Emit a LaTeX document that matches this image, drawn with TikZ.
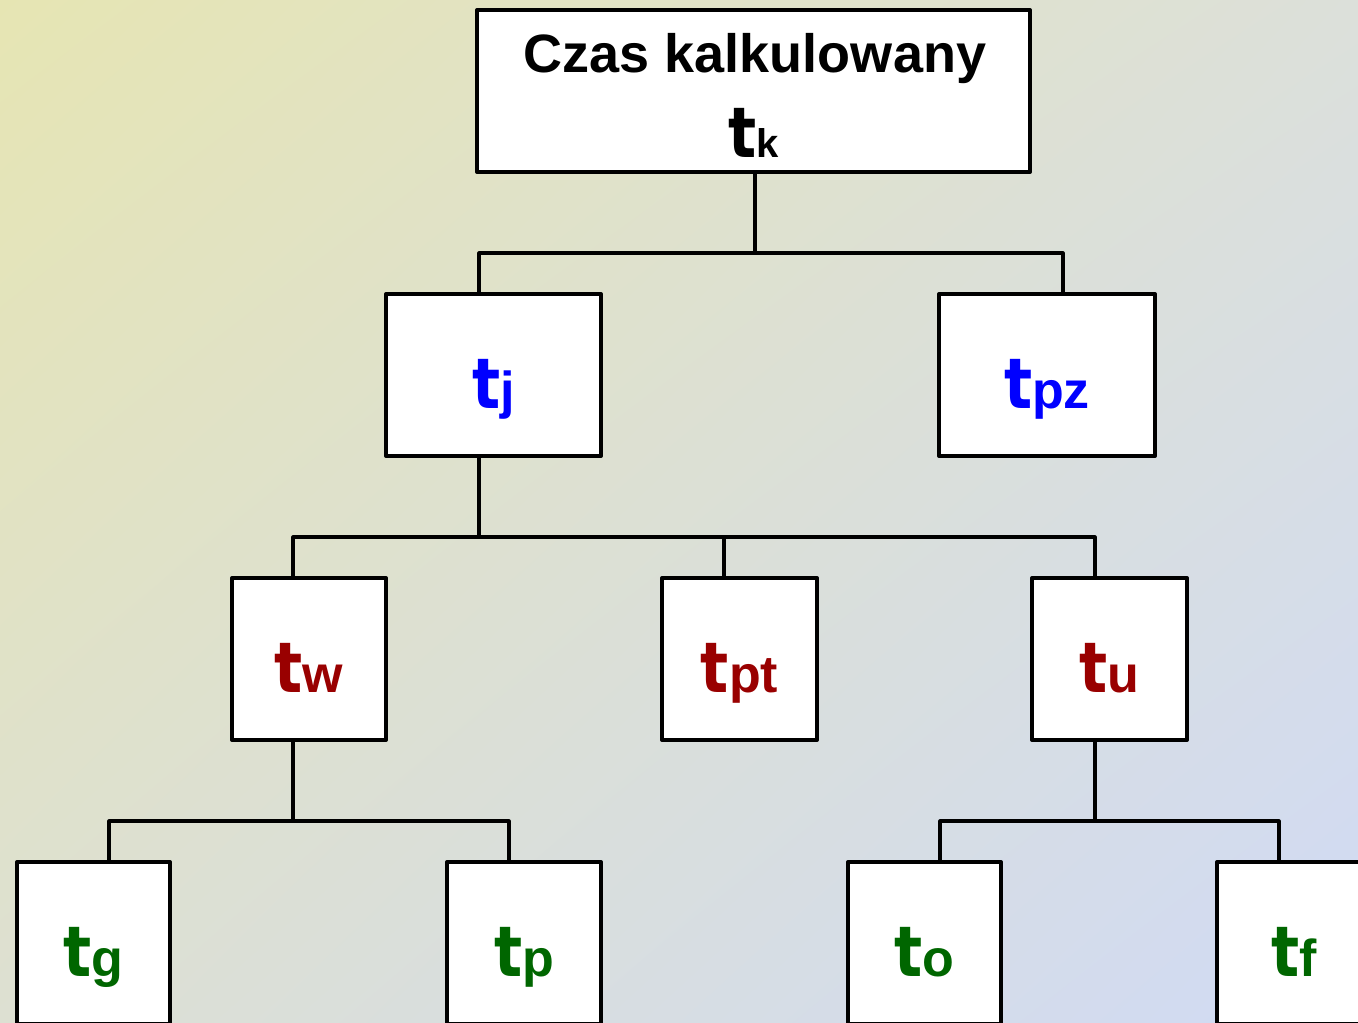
\documentclass[tikz,border=0pt]{standalone}
\usepackage{fontspec}
\usetikzlibrary{shadings}
\setmainfont{Liberation Sans}
\newfontfamily\tfont{DejaVu Sans}
\definecolor{bgUL}{HTML}{E6E5B3}
\definecolor{bgUR}{HTML}{DCE0DA}
\definecolor{bgLL}{HTML}{DDE0D2}
\definecolor{bgLR}{HTML}{D0DAF5}
\definecolor{cblue}{HTML}{0000FF}
\definecolor{cred}{HTML}{990000}
\definecolor{cgreen}{HTML}{006600}
\newcommand\bigt{\scalebox{0.84}[1]{\tfont\bfseries\fontsize{35}{40}\selectfont t}}
\newcommand\tlab[1]{\bigt{\bfseries\fontsize{26}{30}\selectfont #1}}
\begin{document}
\begin{tikzpicture}[x=0.5pt,y=-0.5pt,
  box/.style={draw=black,line width=2pt,fill=white,rectangle,anchor=north west,
              outer sep=0pt,inner sep=0pt,line join=round,minimum height=81pt},
  conn/.style={draw=black,line width=1.6pt,line join=round},
  lbl/.style={anchor=base,inner sep=0pt,outer sep=0pt}]
\useasboundingbox (0,0) rectangle (1358,1022);
\clip (0,0) rectangle (1358,1022);
\shade[upper left=bgUL,upper right=bgUR,lower left=bgLL,lower right=bgLR] (0,0) rectangle (1358,1022);

% connectors (drawn first, boxes cover their ends)
\coordinate (j1) at (755,253);
\coordinate (j1l) at (479,253);
\coordinate (j1r) at (1063,253);
\coordinate (j2) at (479,537);
\coordinate (j2l) at (293,537);
\coordinate (j2m) at (724,537);
\coordinate (j2r) at (1095,537);
\coordinate (j3) at (293,821);
\coordinate (j3l) at (109,821);
\coordinate (j3r) at (509,821);
\coordinate (j4) at (1095,821);
\coordinate (j4l) at (940,821);
\coordinate (j4r) at (1279,821);

% boxes
\node[box,minimum width=276.5pt] (root) at (477,10) {};
\node[box,minimum width=107.5pt] (tj) at (386,294) {};
\node[box,minimum width=108pt] (tpz) at (939,294) {};
\node[box,minimum width=77pt] (tw) at (232,578) {};
\node[box,minimum width=77.5pt] (tpt) at (662,578) {};
\node[box,minimum width=77.5pt] (tu) at (1032,578) {};
\node[box,minimum width=76.5pt] (tg) at (17,862) {};
\node[box,minimum width=77pt] (tp) at (447,862) {};
\node[box,minimum width=76.5pt] (to) at (848,862) {};
\node[box,minimum width=77pt] (tf) at (1217,862) {};

\draw[conn] (root.south -| j1) -- (j1);
\draw[conn] (tj.north -| j1l) -- (j1l) -- (j1r) -- (tpz.north -| j1r);
\draw[conn] (tj.south -| j2) -- (j2);
\draw[conn] (tw.north -| j2l) -- (j2l) -- (j2r) -- (tu.north -| j2r);
\draw[conn] (j2m) -- (tpt.north -| j2m);
\draw[conn] (tw.south -| j3) -- (j3);
\draw[conn] (tg.north -| j3l) -- (j3l) -- (j3r) -- (tp.north -| j3r);
\draw[conn] (tu.south -| j4) -- (j4);
\draw[conn] (to.north -| j4l) -- (j4l) -- (j4r) -- (tf.north -| j4r);

% labels
\node[lbl] (title) at (755,73) {\bfseries\fontsize{27}{30}\selectfont Czas kalkulowany};
\node[lbl] (tkL) at (753.5,157) {\bigt{\bfseries\fontsize{20}{24}\selectfont k}};
\node[lbl,text=cblue] (tjL) at (493.5,408) {\tlab{j}};
\node[lbl,text=cblue] (tpzL) at (1047,408) {\tlab{pz}};
\node[lbl,text=cred] (twL) at (309,692) {\tlab{w}};
\node[lbl,text=cred] (tptL) at (739.5,692) {\tlab{pt}};
\node[lbl,text=cred] (tuL) at (1109.5,692) {\tlab{u}};
\node[lbl,text=cgreen] (tgL) at (93.5,976) {\tlab{g}};
\node[lbl,text=cgreen] (tpL) at (524,976) {\tlab{p}};
\node[lbl,text=cgreen] (toL) at (924.5,976) {\tlab{o}};
\node[lbl,text=cgreen] (tfL) at (1294,976) {\tlab{f}};
\end{tikzpicture}
\end{document}
